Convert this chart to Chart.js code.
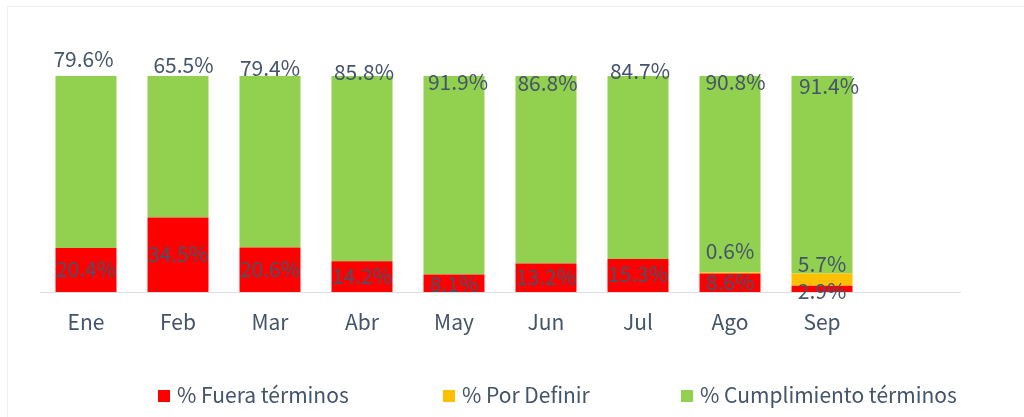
<!DOCTYPE html>
<html>
<head>
<meta charset="utf-8">
<script src="https://cdn.jsdelivr.net/npm/chart.js@4/dist/chart.umd.min.js"></script>
<style>
  html, body { margin: 0; padding: 0; background: #ffffff; }
  #c { display: block; }
</style>
</head>
<body>
<canvas id="c" width="1024" height="417"></canvas>
<script>
// ---- data ----
const categories = ['Ene', 'Feb', 'Mar', 'Abr', 'May', 'Jun', 'Jul', 'Ago', 'Sep', ''];
const fueraTerminos = [20.4, 34.5, 20.6, 14.2, 8.1, 13.2, 15.3, 8.6, 2.9];
const porDefinir = [0, 0, 0, 0, 0, 0, 0, 0.6, 5.7];
const cumplimiento = [79.6, 65.5, 79.4, 85.8, 91.9, 86.8, 84.7, 90.8, 91.4];
const seriesNames = ['% Fuera términos', '% Por Definir', '% Cumplimiento términos'];

// ---- style ----
const FONT = "'Noto Sans CJK SC', 'Noto Sans', sans-serif";
const FONT_SIZE = 21;
const TEXT = '#44546A';
const COLORS = ['#FF0000', '#FFC000', '#92D050'];

// label nudges (pixels), per dataset index
const labelNudges = {
  0: { mode: 'center', dx: [0, 0, 0, 0, 0, 0, 0, 0, 0], dy: [0, 0, 0, 0, 2, 0, 0, 0, 3] },
  1: { mode: 'center', dx: [0, 0, 0, 0, 0, 0, 0, 0, 0], dy: [0, 0, 0, 0, 0, 0, 0, -21, -15] },
  2: { mode: 'top', dx: [-2.5, 5.5, 0, 2, 4, 1.5, 2, 5.5, 7], dy: [-16, -10, -7, -3, 7, 8, -4, 7, 11] }
};

const labelPlugin = {
  id: 'valueLabels',
  afterDatasetsDraw(chart) {
    const ctx = chart.ctx;
    ctx.save();
    ctx.font = FONT_SIZE + 'px ' + FONT;
    ctx.fillStyle = TEXT;
    ctx.textAlign = 'center';
    ctx.textBaseline = 'alphabetic';
    const capHalf = 7;
    chart.data.datasets.forEach((ds, di) => {
      const meta = chart.getDatasetMeta(di);
      const nudge = labelNudges[di];
      meta.data.forEach((bar, i) => {
        const v = ds.data[i];
        if (v === undefined || v === null || v <= 0) return;
        const txt = v.toFixed(1) + '%';
        let cy;
        if (nudge.mode === 'top') cy = bar.y;
        else cy = (bar.y + bar.base) / 2;
        ctx.fillText(txt, bar.x + nudge.dx[i], cy + nudge.dy[i] + capHalf);
      });
    });
    ctx.restore();
  }
};

const legendPlugin = {
  id: 'customLegend',
  afterDraw(chart) {
    const ctx = chart.ctx;
    const boxX = [158, 443, 681];
    const y = 396;
    ctx.save();
    ctx.font = FONT_SIZE + 'px ' + FONT;
    ctx.textBaseline = 'alphabetic';
    ctx.textAlign = 'left';
    chart.data.datasets.forEach((ds, di) => {
      ctx.fillStyle = ds.backgroundColor;
      ctx.fillRect(boxX[di], y - 6, 12, 12);
      ctx.fillStyle = TEXT;
      ctx.fillText(ds.label, boxX[di] + 19, y + 7);
    });
    ctx.restore();
  }
};

const borderPlugin = {
  id: 'frame',
  beforeDraw(chart) {
    const ctx = chart.ctx;
    ctx.save();
    ctx.fillStyle = '#ffffff';
    ctx.fillRect(0, 0, chart.width, chart.height);
    ctx.strokeStyle = '#EFEFEF';
    ctx.lineWidth = 1;
    ctx.strokeRect(7.5, 6.5, 1100, 600);
    ctx.restore();
  }
};

new Chart(document.getElementById('c'), {
  type: 'bar',
  data: {
    labels: categories,
    datasets: [
      { label: seriesNames[0], data: fueraTerminos, backgroundColor: COLORS[0] },
      { label: seriesNames[1], data: porDefinir, backgroundColor: COLORS[1] },
      { label: seriesNames[2], data: cumplimiento, backgroundColor: COLORS[2] }
    ]
  },
  options: {
    responsive: false,
    animation: false,
    layout: { padding: { left: 40, right: 64, top: 76, bottom: 0 } },
    datasets: { bar: { barPercentage: 0.663, categoryPercentage: 1.0, borderWidth: 0 } },
    plugins: {
      legend: { display: false },
      tooltip: { enabled: false }
    },
    scales: {
      x: {
        stacked: true,
        grid: { display: false },
        border: { display: true, color: '#D9DEE6', width: 1 },
        ticks: {
          color: TEXT,
          font: { family: FONT, size: FONT_SIZE },
          padding: 9,
          maxRotation: 0,
          autoSkip: false
        },
        afterFit(scale) { scale.height = 125; }
      },
      y: {
        stacked: true,
        display: false,
        min: 0,
        max: 100
      }
    }
  },
  plugins: [borderPlugin, labelPlugin, legendPlugin]
});
</script>
</body>
</html>
